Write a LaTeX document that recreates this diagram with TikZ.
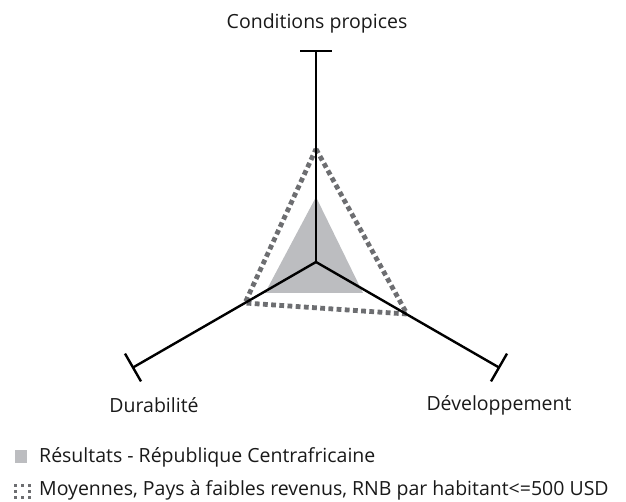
\documentclass[tikz,border=0pt]{standalone}
\usepackage{fontspec}
\setmainfont{Open Sans}
\usetikzlibrary{calc}
\definecolor{resgray}{HTML}{BCBDC0}
\definecolor{moygray}{HTML}{6D6E71}
\tikzset{
  axe/.style={line width=2.4pt, black},
  lbl/.style={font=\fontsize{19.5}{22}\selectfont, text=black!90, inner sep=0pt},
  resultat/.style={fill=resgray, draw=none},
  moyenne/.style={draw=moygray, line width=4.8pt, dash pattern=on 4.8pt off 3.4pt},
}
\begin{document}
\begin{tikzpicture}[x=1pt,y=-1pt]
\useasboundingbox (0,0) rectangle (626,502);
\coordinate (o) at (316,262);
\coordinate (a1) at ($(o)+(0,-211)$);
\coordinate (a2) at ($(o)+(-183,105.5)$);
\coordinate (a3) at ($(o)+(183,105.5)$);

% republique centrafricaine
\fill[resultat] (316,197) -- (265,293) -- (363,293) -- cycle;
% moyennes
\draw[moyenne] (316,149) -- (407,314) -- (245,303) -- cycle;

\draw[axe] (o) -- (a1);
\draw[axe] (o) -- (a2);
\draw[axe] (o) -- (a3);
\draw[axe] ($(a1)+(-16,0)$) -- ($(a1)+(16,0)$);
\draw[axe] ($(a2)+(-8,-13.9)$) -- ($(a2)+(8,13.9)$);
\draw[axe] ($(a3)+(8,-13.9)$) -- ($(a3)+(-8,13.9)$);

\node[lbl] (cond) at (317,23) {Conditions propices};
\node[lbl] (dura) at (154,405) {Durabilité};
\node[lbl] (dev) at (499,405) {Développement};

% legende
\fill[resgray] (15,450) rectangle (27,463);
\node[lbl, anchor=west] (leg1) at (39,457) {Résultats - République Centrafricaine};
\foreach \i/\j in {0/0,1/0,2/0,0/1,2/1,0/2,1/2,2/2}
  \fill[moygray] (14.3+6.6*\i,484.3+6*\j) rectangle ++(3,3);
\node[lbl, anchor=west] (leg2) at (39,490) {Moyennes, Pays à faibles revenus, RNB par habitant<=500 USD};
\end{tikzpicture}
\end{document}
